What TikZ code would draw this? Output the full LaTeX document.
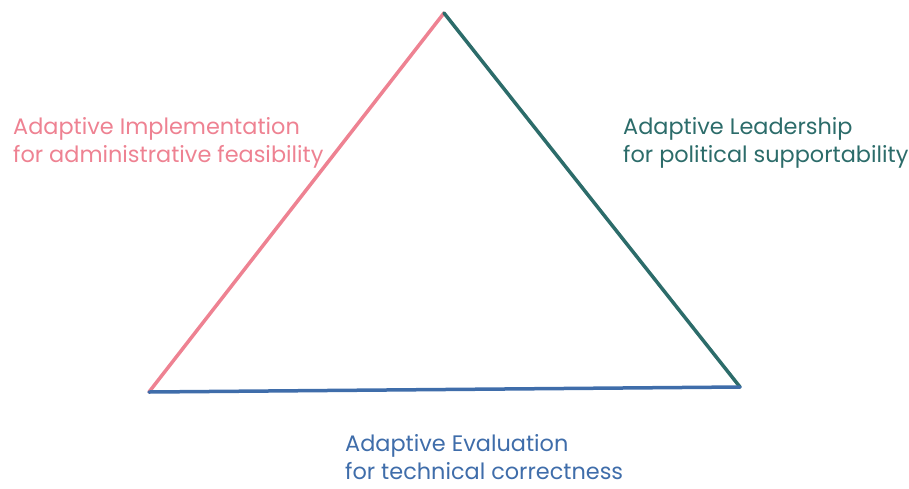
\documentclass[tikz,border=0pt]{standalone}
\usepackage{fontspec}
\setmainfont{Poppins}
\definecolor{pinkc}{HTML}{EE8292}
\definecolor{tealc}{HTML}{2C6C6A}
\definecolor{bluec}{HTML}{3F6DAA}
\begin{document}
\begin{tikzpicture}[x=1pt,y=-1pt,
  edge/.style={line width=3.5pt,line cap=round},
  lbl/.style={anchor=north west,align=left,inner sep=0pt,font=\fontsize{22.4}{28}\selectfont}]
\useasboundingbox (0,0) rectangle (909,488);
\coordinate (top) at (444,13);
\coordinate (bl) at (149,392);
\coordinate (br) at (740,387);
\draw[edge,pinkc] (bl) -- (top);
\draw[edge,tealc] (top) -- (br);
\draw[edge,bluec] (bl) -- (br);
\node[lbl,text=pinkc] (impl) at (13,117) {Adaptive Implementation\\for administrative feasibility};
\node[lbl,text=tealc] (lead) at (623,117) {Adaptive Leadership\\for political supportability};
\node[lbl,text=bluec] (eval) at (345,434) {Adaptive Evaluation\\for technical correctness};
\end{tikzpicture}
\end{document}
